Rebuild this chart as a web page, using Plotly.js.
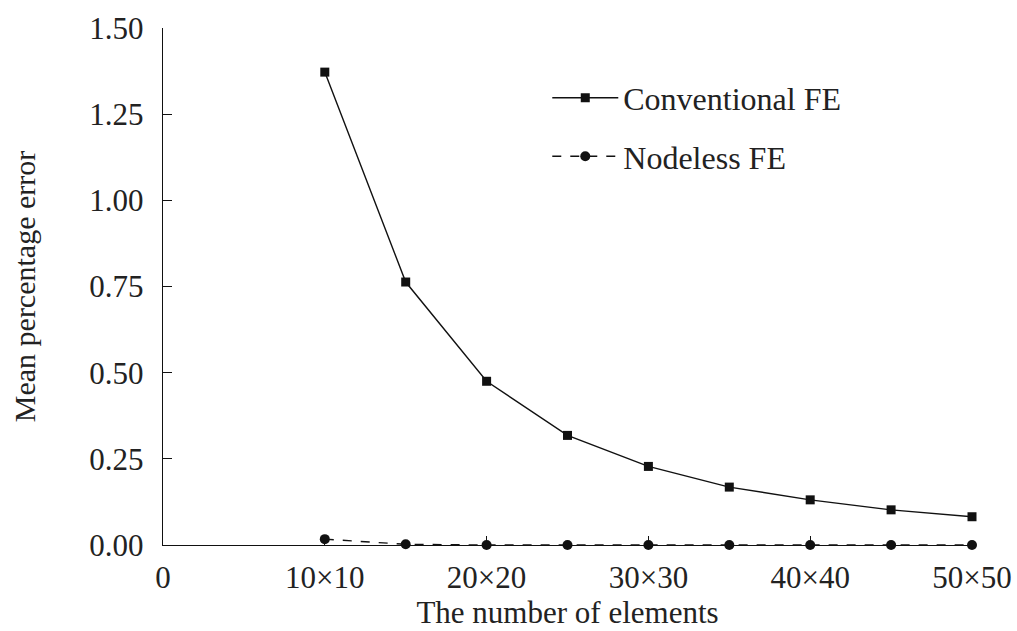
<!DOCTYPE html>
<html>
<head>
<meta charset="utf-8">
<script src="https://cdn.plot.ly/plotly-3.0.1.min.js"></script>
<style>body{margin:0;background:#fff}#chart{width:1017px;height:631px}</style>
</head>
<body>
<div id="chart"></div>
<script>
const elements = [10, 15, 20, 25, 30, 35, 40, 45, 50];
const conventionalFE = [1.372, 0.763, 0.475, 0.318, 0.228, 0.168, 0.131, 0.102, 0.082];
const nodelessFE = [0.017, 0.002, 0.000, 0.000, 0.000, 0.000, 0.000, 0.000, 0.000];
const xTickVals = [0, 10, 20, 30, 40, 50];
const xTickText = ["0", "10×10", "20×20", "30×30", "40×40", "50×50"];
const yTickVals = [0, 0.25, 0.5, 0.75, 1.0, 1.25, 1.5];

const font = "Liberation Serif, Times New Roman, serif";
const traces = [
  {x: elements, y: conventionalFE, name: "Conventional FE", mode: "lines+markers", legendgroup: "a",
   line: {color: "#111", width: 1.4}, marker: {symbol: "square", size: 9, color: "#111"}, cliponaxis: false},
  {x: elements, y: nodelessFE, name: "Nodeless FE", mode: "lines+markers", legendgroup: "b",
   line: {color: "#111", width: 1.4, dash: "dash"}, marker: {symbol: "circle", size: 10, color: "#111"}, cliponaxis: false}
];
const layout = {
  width: 1017, height: 631,
  margin: {l: 163, r: 45, t: 28, b: 86},
  paper_bgcolor: "#fff", plot_bgcolor: "#fff",
  font: {family: font, color: "#222", size: 31},
  showlegend: true,
  legend: {x: 0.475, y: 0.918, xanchor: "left", yanchor: "top", font: {size: 32, family: font, color: "#222"},
           bgcolor: "rgba(0,0,0,0)", traceorder: "grouped", tracegroupgap: 14, itemwidth: 66},
  xaxis: {
    range: [0, 50], tickvals: xTickVals, ticktext: xTickText,
    showgrid: false, zeroline: false, showline: true, linecolor: "#111", linewidth: 1.4,
    ticks: "inside", ticklen: 9, tickcolor: "#111", tickwidth: 1.4, ticklabelstandoff: 5,
    tickfont: {size: 31, family: font, color: "#222"},
    title: {text: "The number of elements", font: {size: 31, family: font, color: "#222"}, standoff: 0}
  },
  yaxis: {
    range: [0, 1.5], tickvals: yTickVals, tickformat: ".2f",
    showgrid: false, zeroline: false, showline: true, linecolor: "#111", linewidth: 1.4,
    ticks: "inside", ticklen: 9, tickcolor: "#111", tickwidth: 1.4, ticklabelstandoff: 12,
    tickfont: {size: 31, family: font, color: "#222"},
    title: {text: "Mean percentage error", font: {size: 30, family: font, color: "#222"}, standoff: 44}
  }
};
Plotly.newPlot("chart", traces, layout, {displayModeBar: false});
</script>
</body>
</html>
